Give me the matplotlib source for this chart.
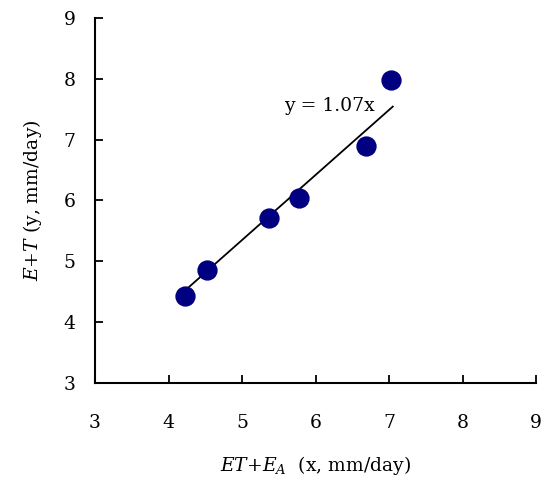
import numpy as np
import matplotlib.pyplot as plt

# observed points (x = ET+E_A, y = E+T), mm/day
x_obs = [4.22, 4.52, 5.37, 5.78, 6.69, 7.03]
y_obs = [4.43, 4.86, 5.71, 6.04, 6.90, 7.98]

slope = 1.07
fit_x = [4.2, 7.05]

ticks = [3, 4, 5, 6, 7, 8, 9]


def main():
    plt.rcParams['font.family'] = ['DejaVu Serif']
    plt.rcParams['mathtext.fontset'] = 'dejavuserif'

    fig = plt.figure(figsize=(5.48, 4.86), dpi=100)
    ax = fig.add_axes([0.1734, 0.212, 0.805, 0.751])

    ax.scatter(x_obs, y_obs, s=185, color="#000080", zorder=3)
    fx = np.array(fit_x)
    ax.plot(fx, slope * fx, color="black", lw=1.3, zorder=2)
    ax.text(6.81, 7.55, "y = %.2fx" % slope, ha="right", va="center", fontsize=13.5)

    ax.set_xlim(3, 9)
    ax.set_ylim(3, 9)
    ax.set_xticks(ticks)
    ax.set_yticks(ticks)
    ax.tick_params(direction="in", length=6, width=1.3, labelsize=13.5)
    ax.tick_params(axis="x", pad=22)
    ax.tick_params(axis="y", pad=14)
    for s in ["top", "right"]:
        ax.spines[s].set_visible(False)
    for s in ["left", "bottom"]:
        ax.spines[s].set_linewidth(1.5)

    ax.set_xlabel(r"$ET$+$E_A$  (x, mm/day)", fontsize=13.5, labelpad=16)
    ax.set_ylabel(r"$E$+$T$ (y, mm/day)", fontsize=13.5, labelpad=14)

    plt.savefig("out.png", dpi=100)


if __name__ == "__main__":
    main()
